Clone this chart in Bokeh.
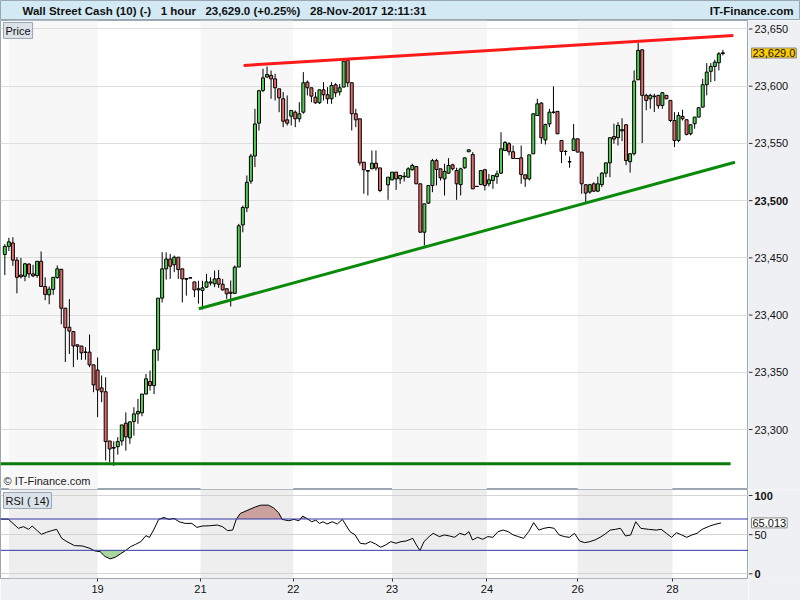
import numpy as np
from bokeh.plotting import figure
from bokeh.models import (ColumnDataSource, Range1d, FixedTicker, Label, Span, BoxAnnotation)
from bokeh.layouts import column, row
from bokeh.core.properties import value
from bokeh.embed import file_html
from bokeh.resources import INLINE

# ---------------- data ----------------
hours = list(range(0, 94)) + list(range(95, 179))

opens = [23453, 23460, 23463, 23448, 23435, 23434, 23444.5, 23436, 23434.6, 23447,
         23425, 23417.7, 23422.4, 23432.8, 23440, 23406, 23389.4, 23385.6, 23374, 23373,
         23367.8, 23367.6, 23356.5, 23352, 23336.4, 23333, 23290, 23284.2, 23285, 23290,
         23305.5, 23292.7, 23307, 23313.7, 23314.6, 23331, 23342, 23338.4, 23369.6, 23414.8,
         23440.4, 23449, 23444, 23450.6, 23440.4, 23431.8, 23432.5, 23429, 23423, 23421.5,
         23424.4, 23429, 23427.3, 23432, 23427, 23423, 23420, 23419, 23442, 23478.8,
         23493.7, 23517, 23539, 23567.7, 23596.3, 23608, 23609.4, 23606.4, 23597.7, 23589,
         23570.6, 23573.8, 23577.3, 23571.5, 23577.3, 23603.5, 23598.6, 23590.4, 23585.5, 23596.8,
         23592.5, 23589, 23601.2, 23595, 23599.2, 23622.5, 23603, 23575.9, 23571.5, 23533.6,
         23526.2, 23527.8, 23532.7, 23528.6,
         23513.8, 23518.2, 23524.9, 23519, 23521.2,
         23520.5, 23527, 23529.8, 23514.7, 23472.4, 23497.8, 23513.2, 23535, 23527.8, 23519,
         23524, 23531.3, 23526.3, 23514, 23528.7, 23542.7, 23540.3, 23512.4, 23514, 23527,
         23514.7, 23517.6, 23521, 23524, 23543.8, 23549.7, 23542.7, 23536.8, 23537.4, 23522.6,
         23519, 23540.9, 23574.4, 23585.2, 23553, 23567, 23577, 23578, 23552.6, 23543,
         23534, 23543.8, 23554, 23542.4, 23513.9, 23507.5, 23514.7, 23508.3, 23514, 23524,
         23533, 23556, 23555, 23562, 23566.3, 23534, 23541, 23605.6, 23631.8, 23592,
         23589, 23591.2, 23592, 23583.2, 23592, 23587.6, 23570, 23552.6, 23573.6, 23570.7,
         23558.4, 23567.2, 23573, 23581.7, 23601.3, 23613, 23617.3, 23620.5, 23628.8]

highs = [23462, 23467.5, 23468, 23450.6, 23450, 23445.6, 23445.4, 23443.9, 23447, 23455.6,
         23433, 23425, 23433, 23443.3, 23440.4, 23406.3, 23414, 23385.6, 23374, 23373,
         23372, 23383, 23356.5, 23363, 23347.2, 23345.7, 23290, 23289.8, 23293.3, 23304,
         23315, 23306.7, 23319.5, 23326.8, 23331, 23348.6, 23351.5, 23369.6, 23414.8, 23455,
         23454.8, 23453.5, 23452, 23450.6, 23440.4, 23431.8, 23432.5, 23429, 23430, 23430,
         23436, 23433, 23438.9, 23439.5, 23431.6, 23423, 23430.2, 23443.3, 23479.7, 23495.7,
         23522, 23540.9, 23580.2, 23596.8, 23615.2, 23617.2, 23613.7, 23610.8, 23597.7, 23594.8,
         23591.9, 23578.8, 23578.8, 23586, 23612.3, 23605, 23598.6, 23594.8, 23596.8, 23603.5,
         23599.2, 23603.5, 23602.7, 23602, 23622.5, 23623, 23603, 23580.2, 23571.5, 23533.6,
         23526.2, 23543.8, 23543.8, 23528.6,
         23520.5, 23524.9, 23524.9, 23522, 23524.9,
         23529.2, 23532.2, 23529.8, 23514.7, 23497.2, 23513.2, 23536.5, 23536.5, 23527.8, 23532.2,
         23537.1, 23532.2, 23528.7, 23528.7, 23537.4, 23544.4, 23542.4, 23512.4, 23526.3, 23527.8,
         23523.4, 23522, 23526.3, 23559.8, 23552, 23551.1, 23548.2, 23536.8, 23548.2, 23522.6,
         23540, 23575.9, 23589, 23586, 23567.2, 23580.2, 23599.8, 23578, 23552.6, 23544,
         23538.6, 23567, 23554, 23542.4, 23513.9, 23514.7, 23516, 23521, 23525, 23533,
         23555, 23567.2, 23568.6, 23572, 23566.3, 23541, 23613.7, 23637.7, 23631.8, 23593.4,
         23593.4, 23593.4, 23592, 23594.8, 23592, 23587.6, 23577.3, 23577.3, 23579.4, 23570.7,
         23566.3, 23573, 23581.7, 23606.5, 23620.2, 23620.2, 23623.1, 23629.8, 23631.8]

lows = [23435, 23456, 23443, 23419, 23432, 23429.6, 23432.5, 23433.1, 23432.5, 23425,
        23413, 23409.5, 23417.7, 23431.7, 23392, 23359, 23366, 23354.5, 23360.9, 23360.9,
        23361, 23354.5, 23332.6, 23310.8, 23323.9, 23272.9, 23271.4, 23268.2, 23278, 23286,
        23281.6, 23287.5, 23294.7, 23305, 23311.6, 23331, 23334, 23331, 23360, 23411,
        23431, 23431.6, 23437.5, 23431.6, 23411, 23417, 23432.5, 23415.7, 23410, 23405,
        23423.8, 23425.8, 23424.4, 23423.8, 23421.5, 23414.2, 23407.5, 23418.6, 23442, 23472.4,
        23490, 23514.7, 23529.3, 23561.3, 23594.8, 23607.3, 23589, 23587.5, 23577.3, 23564.2,
        23565.7, 23565.7, 23564.2, 23568.6, 23575.9, 23591.9, 23586, 23584.6, 23584.6, 23587.5,
        23584.6, 23584.6, 23590.4, 23591.9, 23599.2, 23599.2, 23561.3, 23564.2, 23530.7, 23506,
        23504.5, 23527.8, 23526.3, 23507.4,
        23500.7, 23517.6, 23509.4, 23514.7, 23516.7,
        23520.5, 23526.3, 23514.7, 23472.4, 23460.8, 23497.2, 23507.4, 23513.2, 23517.6, 23504.5,
        23523.4, 23526.3, 23500.7, 23504.5, 23527.8, 23542.7, 23510.3, 23512.4, 23514, 23508.9,
        23512.4, 23510.3, 23514.7, 23523.4, 23543.8, 23539.5, 23536.8, 23536.8, 23514.7, 23512,
        23517.6, 23540.9, 23574.4, 23549.7, 23549, 23564.2, 23576, 23558.4, 23532.8, 23539.5,
        23528.7, 23543.8, 23542.4, 23506, 23498.7, 23506, 23507.5, 23507.5, 23511.8, 23520.5,
        23520.5, 23549.7, 23548.2, 23552, 23531, 23524.5, 23539.5, 23605.6, 23550.3, 23579,
        23580.3, 23577.5, 23580.3, 23580.3, 23589, 23568.6, 23546.8, 23551.1, 23570, 23557,
        23557, 23562.8, 23573, 23581.7, 23592, 23603.5, 23604.5, 23613.8, 23626.9]

closes = [23460, 23464, 23448, 23433, 23433.5, 23444.8, 23436, 23434.3, 23447, 23425,
          23418, 23422.6, 23433, 23440.4, 23406, 23389, 23386, 23373, 23372.8, 23367,
          23367.3, 23356.5, 23339, 23334.6, 23333, 23289.5, 23283, 23283.8, 23289.5, 23304,
          23293.6, 23306.7, 23313.7, 23315.8, 23331, 23344.3, 23338.4, 23369.6, 23414.8, 23440.4,
          23449, 23442.7, 23450.6, 23439.8, 23431.6, 23431.4, 23432.5, 23422, 23422, 23423.8,
          23429, 23428, 23431.6, 23427, 23422, 23418.6, 23419, 23441.9, 23478, 23494,
          23516, 23539, 23567, 23596, 23607.3, 23610.2, 23606.4, 23598.6, 23589.8, 23569.4,
          23567.7, 23578.8, 23571.5, 23575.9, 23603, 23598.6, 23591.3, 23585.5, 23596.8, 23592.5,
          23589, 23600.6, 23594.2, 23598.6, 23621.9, 23603, 23575.9, 23570.6, 23533, 23526.9,
          23525.8, 23532.7, 23528.4, 23508.9,
          23520.5, 23524.9, 23519, 23522, 23520.8,
          23527.8, 23530.7, 23514.7, 23472.4, 23497.2, 23513.2, 23535, 23527.2, 23520, 23525.5,
          23530.7, 23527.8, 23514.7, 23527.8, 23537.4, 23544.4, 23510.3, 23512.4, 23526.3, 23513.2,
          23518.2, 23522, 23523.4, 23545.3, 23550.8, 23542.7, 23536.8, 23536.8, 23522.9, 23519,
          23540, 23575.9, 23584.6, 23554.9, 23566.5, 23577.3, 23577.5, 23558.4, 23543, 23543,
          23534, 23554, 23542.4, 23514.7, 23506.6, 23513.9, 23508.3, 23514.7, 23524, 23533,
          23555, 23553.8, 23565.7, 23561, 23535, 23541, 23604.5, 23631.3, 23592, 23587.6,
          23592, 23590.8, 23583, 23594.3, 23589, 23570, 23552.6, 23574.5, 23571.5, 23557.9,
          23566.3, 23573, 23581.2, 23601.3, 23612.3, 23617.3, 23621, 23628.3, 23629]

price_ticks = [23300, 23350, 23400, 23450, 23500, 23550, 23600, 23650]
bold_price_tick = 23500
last_price = 23629.0

day_ticks = [23, 48.5, 71.5, 96, 119.5, 142, 165.5]
day_labels = ["19", "21", "22", "23", "24", "26", "28"]
shaded_days_start = [1, 48.5, 96, 142]
shaded_days_end = [23, 71.5, 119.5, 165.5]

# trend lines (hour index, price)
resistance_x = [59.2, 180.6]
resistance_y = [23618.1, 23644.3]
support_x = [48.1, 181.0]
support_y = [23405.5, 23533.6]
floor_x = [-1.07, 179.9]
floor_y = [23270, 23270]

# RSI(14) vertices
rsi_x = [-1.07, 0.83, 3.36, 4.62, 5.89, 6.78, 8.04, 9.05, 10.32, 11.58,
         12.85, 14.11, 15.38, 17.27, 19.17, 21.07, 22.33, 23.6, 24.86, 26.13,
         27.39, 28.66, 29.92, 31.19, 32.45, 33.72, 34.98, 35.87, 36.88, 38.14,
         39.41, 40.67, 41.94, 43.2, 44.72, 46.36, 47.63, 48.89, 50.79, 52.69,
         53.95, 55.22, 56.48, 57.37, 58.38, 60.28, 62.17, 63.44, 65.34, 66.6,
         67.87, 68.75, 70.4, 71.66, 72.93, 73.81, 74.82, 76.09, 77.1, 77.98,
         78.87, 79.88, 81.15, 82.41, 83.68, 85.57, 86.84, 88.1, 89.37, 90.63,
         91.9, 93.16, 94.43, 95.69, 96.96, 98.22, 99.49, 101.13, 102.02, 102.9,
         103.91, 105.18, 106.19, 107.71, 108.97, 110.24, 111.5, 112.77, 114.03, 115.04,
         115.93, 117.19, 118.46, 119.72, 120.99, 122.25, 123.52, 124.78, 126.05, 127.31,
         128.58, 129.84, 131.11, 132.37, 133.64, 134.9, 136.17, 137.43, 138.7, 139.96,
         141.22, 142.49, 143.75, 145.02, 146.28, 147.55, 148.81, 150.08, 151.34, 152.61,
         153.87, 155.14, 156.4, 157.67, 159.56, 161.46, 162.73, 163.99, 165.26, 166.52,
         167.79, 169.05, 170.32, 171.58, 172.85, 174.74, 176.01, 177.53]
rsi_y = [69.9, 69.9, 58.1, 60.2, 56.8, 61.0, 55.1, 50.4, 53.0, 55.1,
         56.8, 45.3, 41.1, 36.0, 35.6, 32.6, 29.2, 28.4, 22.0, 19.1,
         21.2, 25.4, 29.7, 34.7, 37.7, 41.1, 48.7, 46.6, 55.9, 69.5,
         72.0, 69.5, 70.8, 66.5, 64.4, 64.4, 59.3, 61.0, 61.4, 62.3,
         60.2, 55.1, 55.9, 69.5, 77.1, 81.4, 85.6, 87.7, 87.7, 84.3,
         78.0, 69.5, 67.8, 69.5, 67.8, 73.7, 70.8, 66.5, 68.6, 64.4,
         66.5, 63.6, 66.5, 63.6, 69.5, 53.8, 49.6, 39.0, 38.1, 41.1,
         38.1, 33.9, 36.9, 41.1, 39.0, 41.1, 41.9, 45.3, 36.9, 29.7,
         41.1, 47.5, 51.7, 47.5, 49.6, 48.3, 46.6, 51.7, 49.6, 53.8,
         43.2, 46.6, 44.1, 47.5, 46.6, 53.8, 55.9, 53.8, 49.6, 47.5,
         45.3, 53.8, 65.3, 55.9, 58.1, 59.3, 58.1, 49.6, 47.5, 46.6,
         51.7, 41.9, 39.8, 41.1, 43.2, 46.6, 50.8, 55.9, 56.8, 58.1,
         48.3, 49.6, 66.5, 58.1, 56.8, 55.9, 56.8, 51.7, 46.6, 52.5,
         49.6, 46.6, 49.6, 51.7, 56.8, 61.0, 63.1, 65.0]
rsi_ticks = [0, 50, 100]
rsi_bold_ticks = [0, 100]
rsi_oversold = 30
rsi_overbought = 70
rsi_last = 65.013

assert len(hours) == len(opens) == len(highs) == len(lows) == len(closes)
assert len(rsi_x) == len(rsi_y)

# ---------------- styling ----------------
FONT = "Liberation Sans"
MAIN_W = 748
AXIS_W = 52
TITLE_H = 20
PRICE_H = 469
RSI_H = 111
XAXIS_H = 22
AXIS_BG = "#eef0f3"
BORDER = "#9aa6b2"
GREEN = "#52cc52"
RED = "#e26b6b"
X_RANGE = (-1.07, 184.35)
PRICE_RANGE = (23247.6, 23657.4)
RSI_RANGE = (-6.0, 107.7)
TICK_LEN = 4
LABEL_X = 6


def bare(fig):
    fig.xgrid.grid_line_color = None
    fig.ygrid.grid_line_color = None


# ---------------- title bar ----------------
tb = figure(width=MAIN_W + AXIS_W, height=TITLE_H, x_range=Range1d(0, MAIN_W + AXIS_W),
            y_range=Range1d(0, 1), x_axis_location=None, y_axis_location=None,
            toolbar_location=None, output_backend="svg", min_border=0,
            background_fill_color="#d3e9f3", border_fill_color="#d3e9f3",
            outline_line_color=BORDER)
bare(tb)
sep = "\u00a0\u00a0\u00a0"
title_text = sep.join(["Wall Street Cash (10) (-)", "1 hour",
                       f"{last_price:,.1f} (+0.25%)", "28-Nov-2017 12:11:31"])
tb.add_layout(Label(x=22, y=0.5, text=title_text, text_baseline="middle", text_align="left",
                    text_font=FONT, text_font_size="11.5px", text_font_style="bold",
                    text_color="#111111"))
tb.add_layout(Label(x=793, y=0.5, text="IT-Finance.com", text_baseline="middle",
                    text_align="right", text_font=FONT, text_font_size="11.5px",
                    text_font_style="bold", text_color="#111111"))

# ---------------- price panel ----------------
p = figure(width=MAIN_W, height=PRICE_H, x_range=Range1d(*X_RANGE), y_range=Range1d(*PRICE_RANGE),
           x_axis_location=None, y_axis_location=None, toolbar_location=None,
           output_backend="svg", min_border=0, background_fill_color="white",
           border_fill_color=AXIS_BG, outline_line_color=BORDER)
for l, r in zip(shaded_days_start, shaded_days_end):
    p.add_layout(BoxAnnotation(left=l, right=r, fill_color="#f7f7f7", fill_alpha=1,
                               line_color=None, level="image"))
p.xgrid.grid_line_color = None
p.ygrid.ticker = FixedTicker(ticks=price_ticks)
p.ygrid.grid_line_color = "#dedede"
p.ygrid.grid_line_width = 1

o = np.array(opens, dtype=float)
c = np.array(closes, dtype=float)
up = c >= o
src = ColumnDataSource(dict(x=hours, top=np.maximum(o, c), bottom=np.minimum(o, c),
                            high=highs, low=lows,
                            color=np.where(up, GREEN, RED).tolist()))
p.segment(x0="x", y0="low", x1="x", y1="high", source=src, line_color="black", line_width=1)
p.vbar(x="x", width=0.74, top="top", bottom="bottom", source=src,
       fill_color="color", line_color="black", line_width=1)
flat = np.abs(c - o) < 0.5
hx = np.array(hours, dtype=float)[flat]
p.segment(x0=hx - 0.42, y0=o[flat], x1=hx + 0.42, y1=o[flat], line_color="black", line_width=1)

p.line(resistance_x, resistance_y, line_color="#ff1a1a", line_width=3)
p.line(support_x, support_y, line_color="#0a8a0a", line_width=3)
p.line(floor_x, floor_y, line_color="#0a7a0a", line_width=3)

p.add_layout(Label(x=X_RANGE[0], y=PRICE_RANGE[1], x_offset=3, y_offset=-2, text="Price",
                   text_baseline="top", text_align="left", text_font=FONT,
                   text_font_size="11px", text_color="#111111",
                   background_fill_color="#dbe2e9", border_line_color=BORDER, padding=2))
p.add_layout(Label(x=X_RANGE[0], y=PRICE_RANGE[0], x_offset=3, y_offset=3, text="© IT-Finance.com",
                   text_baseline="bottom", text_align="left", text_font=FONT,
                   text_font_size="11px", text_color="#222222"))

# price scale column (shares the price y-range)
pa = figure(width=AXIS_W, height=PRICE_H, x_range=Range1d(0, AXIS_W), y_range=p.y_range,
            x_axis_location=None, y_axis_location=None, toolbar_location=None,
            output_backend="svg", min_border=0, background_fill_color=AXIS_BG,
            border_fill_color=AXIS_BG, outline_line_color=None)
bare(pa)
pa.segment(x0=0, y0=price_ticks, x1=TICK_LEN, y1=price_ticks, line_color="#333333", line_width=1)
normal_ticks = [t for t in price_ticks if t != bold_price_tick]
pa.text(x=LABEL_X, y=normal_ticks, text=[f"{t:,}" for t in normal_ticks],
        text_baseline="middle", text_align="left", text_font=value(FONT),
        text_font_size="11px", text_color="#111111")
pa.text(x=LABEL_X, y=[bold_price_tick], text=[f"{bold_price_tick:,}"],
        text_baseline="middle", text_align="left", text_font=value(FONT),
        text_font_size="11px", text_font_style="bold", text_color="#111111")
pa.add_layout(Label(x=3, y=last_price, text=f"{last_price:,.1f}", text_baseline="middle",
                    text_align="left", text_font=FONT, text_font_size="11px",
                    text_color="#111111", background_fill_color="#ffcc00",
                    border_line_color="#8a8a8a", padding=1))

# ---------------- RSI panel ----------------
q = figure(width=MAIN_W, height=RSI_H, x_range=p.x_range, y_range=Range1d(*RSI_RANGE),
           x_axis_location="below", y_axis_location=None, toolbar_location=None,
           output_backend="svg", min_border_left=0, min_border_right=0,
           min_border_top=0, min_border_bottom=XAXIS_H, background_fill_color="white",
           border_fill_color=AXIS_BG, outline_line_color=BORDER)
for l, r in zip(shaded_days_start, shaded_days_end):
    q.add_layout(BoxAnnotation(left=l, right=r, fill_color="#eeeeee", fill_alpha=1,
                               line_color=None, level="image"))
q.xgrid.grid_line_color = None
q.ygrid.ticker = FixedTicker(ticks=rsi_ticks)
q.ygrid.grid_line_color = "#d4d4d4"

rx = q.xaxis[0]
rx.ticker = FixedTicker(ticks=day_ticks)
rx.major_label_overrides = {t: lab for t, lab in zip(day_ticks, day_labels)}
rx.axis_line_color = None
rx.major_tick_line_color = "#333333"
rx.major_tick_out = 3
rx.major_tick_in = 0
rx.minor_tick_line_color = None
rx.major_label_standoff = 3
rx.major_label_text_font = FONT
rx.major_label_text_font_size = "11px"
rx.major_label_text_color = "#111111"

ra = np.array(rsi_y, dtype=float)
q.varea(x=rsi_x, y1=[rsi_overbought] * len(rsi_x), y2=np.maximum(ra, rsi_overbought),
        fill_color="#caa19d")
q.varea(x=rsi_x, y1=np.minimum(ra, rsi_oversold), y2=[rsi_oversold] * len(rsi_x),
        fill_color="#a9d6a0")
for lvl in (rsi_oversold, rsi_overbought):
    q.add_layout(Span(location=lvl, dimension="width", line_color="#3434a8", line_width=1))
q.line(rsi_x, rsi_y, line_color="black", line_width=1)
q.add_layout(Label(x=X_RANGE[0], y=RSI_RANGE[1], x_offset=3, y_offset=-3, text="RSI ( 14)",
                   text_baseline="top", text_align="left", text_font=FONT,
                   text_font_size="11px", text_color="#111111",
                   background_fill_color="#dbe2e9", border_line_color=BORDER, padding=2))

# RSI scale column
qa = figure(width=AXIS_W, height=RSI_H, x_range=Range1d(0, AXIS_W), y_range=q.y_range,
            x_axis_location=None, y_axis_location=None, toolbar_location=None,
            output_backend="svg", min_border_left=0, min_border_right=0, min_border_top=0,
            min_border_bottom=XAXIS_H, background_fill_color=AXIS_BG,
            border_fill_color=AXIS_BG, outline_line_color=None)
bare(qa)
qa.segment(x0=0, y0=rsi_ticks, x1=TICK_LEN, y1=rsi_ticks, line_color="#333333", line_width=1)
normal_rsi = [t for t in rsi_ticks if t not in rsi_bold_ticks]
qa.text(x=LABEL_X, y=normal_rsi, text=[str(t) for t in normal_rsi], text_baseline="middle",
        text_align="left", text_font=value(FONT), text_font_size="11px", text_color="#111111")
qa.text(x=LABEL_X, y=rsi_bold_ticks, text=[str(t) for t in rsi_bold_ticks],
        text_baseline="middle", text_align="left", text_font=value(FONT),
        text_font_size="11px", text_font_style="bold", text_color="#111111")
qa.add_layout(Label(x=3, y=rsi_last, text=f"{rsi_last:.3f}", text_baseline="middle",
                    text_align="left", text_font=FONT, text_font_size="11px",
                    text_color="#111111", background_fill_color="white",
                    border_line_color="#8a8a8a", padding=1))

layout = column(tb, row(p, pa, spacing=0), row(q, qa, spacing=0), spacing=0)
open("out.html", "w").write(file_html(layout, INLINE))
